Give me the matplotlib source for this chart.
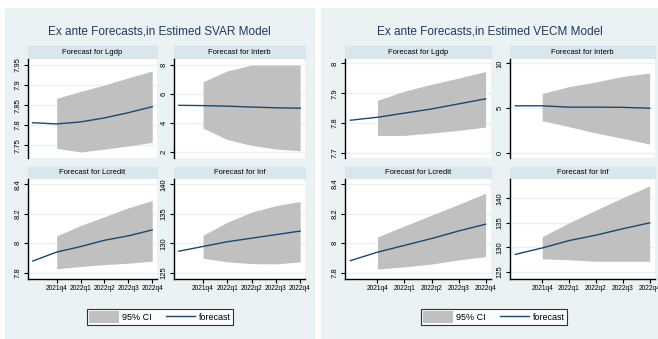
import numpy as np
import matplotlib.pyplot as plt
from matplotlib.patches import Rectangle, Patch
from matplotlib.lines import Line2D

plt.rcParams['font.family'] = ['Liberation Sans Narrow', 'Liberation Sans', 'DejaVu Sans']

W, H = 658, 339

# quarters: 2021q3 (last observed) .. 2022q4
qtr = np.arange(6)
fq = qtr[1:]
qlabels = ['2021q4', '2022q1', '2022q2', '2022q3', '2022q4']

# SVAR forecasts
svar_lgdp = [7.806, 7.803, 7.808, 7.818, 7.831, 7.846]
svar_lgdp_lo = [7.742, 7.733, 7.740, 7.748, 7.757]
svar_lgdp_hi = [7.867, 7.884, 7.900, 7.918, 7.935]

svar_interb = [5.22, 5.20, 5.16, 5.10, 5.05, 5.02]
svar_interb_lo = [3.65, 2.85, 2.45, 2.20, 2.08]
svar_interb_hi = [6.85, 7.60, 8.00, 8.00, 8.00]

svar_lcredit = [7.879, 7.940, 7.977, 8.020, 8.050, 8.090]
svar_lcredit_lo = [7.826, 7.842, 7.855, 7.864, 7.878]
svar_lcredit_hi = [8.050, 8.120, 8.180, 8.240, 8.290]

svar_inf = [128.7, 129.5, 130.3, 130.9, 131.5, 132.1]
svar_inf_lo = [127.5, 126.9, 126.6, 126.55, 126.9]
svar_inf_hi = [131.4, 133.6, 135.3, 136.4, 137.1]

# VECM forecasts
vecm_lgdp = [7.809, 7.819, 7.833, 7.847, 7.864, 7.881]
vecm_lgdp_lo = [7.758, 7.758, 7.766, 7.775, 7.786]
vecm_lgdp_hi = [7.876, 7.907, 7.930, 7.951, 7.973]

vecm_interb = [5.25, 5.25, 5.10, 5.10, 5.08, 4.98]
vecm_interb_lo = [3.58, 2.90, 2.20, 1.60, 0.96]
vecm_interb_hi = [6.64, 7.40, 7.93, 8.55, 8.93]

vecm_lcredit = [7.883, 7.940, 7.986, 8.032, 8.083, 8.129]
vecm_lcredit_lo = [7.826, 7.841, 7.860, 7.888, 7.910]
vecm_lcredit_hi = [8.043, 8.117, 8.190, 8.262, 8.338]

vecm_inf = [128.6, 129.9, 131.4, 132.5, 133.8, 135.0]
vecm_inf_lo = [127.7, 127.5, 127.2, 127.2, 127.2]
vecm_inf_hi = [132.2, 135.0, 137.6, 140.1, 142.5]

BG = '#eaf2f3'
STRIP = '#d9e6eb'
NAVY = '#1a476f'
CI = '#c0c0c0'


def rect(x0, y0, x1, y1):
    return [x0 / W, 1 - y1 / H, (x1 - x0) / W, (y1 - y0) / H]


def subplot(fig, box, title, y, lo, hi, ylim, yticks, ylabels, bottom):
    x0, y0, x1, y1 = box
    # title strip above the plot
    fig.patches.append(Rectangle((x0 / W, 1 - y0 / H), (x1 - x0) / W, 12.5 / H,
                                 transform=fig.transFigure, color=STRIP, zorder=1))
    fig.text((x0 + x1) / 2 / W, 1 - (y0 - 6.5) / H, title, ha='center', va='center',
             fontsize=5.5, color='black', zorder=3)
    ax = fig.add_axes(rect(x0, y0, x1, y1))
    ax.set_zorder(2)
    ax.set_facecolor('white')
    ax.fill_between(fq, lo, hi, color=CI, lw=0, zorder=1)
    ax.plot(qtr, y, color=NAVY, lw=1.0, zorder=2)
    ax.set_xlim(-0.2, 5.2)
    ax.set_ylim(*ylim)
    ax.set_yticks(yticks)
    ax.set_yticklabels(ylabels)
    for t in yticks:
        ax.axhline(t, color=BG, lw=1.0, zorder=0)
    for s in ['top', 'right']:
        ax.spines[s].set_visible(False)
    ax.spines['left'].set_linewidth(1.0)
    ax.tick_params(axis='y', labelrotation=90, labelsize=5.5, length=3, width=0.8, pad=1.5)
    if bottom:
        ax.spines['bottom'].set_linewidth(1.0)
        ax.set_xticks(fq)
        ax.set_xticklabels(qlabels)
        ax.tick_params(axis='x', labelsize=4.8, length=3, width=0.8, pad=1.5)
    else:
        ax.spines['bottom'].set_visible(False)
        ax.set_xticks([])
    for lab in ax.get_yticklabels():
        lab.set_va('center')
    return ax


fig = plt.figure(figsize=(W / 100, H / 100), dpi=100)
fig.patch.set_facecolor('white')

# panel backgrounds
fig.patches.append(Rectangle((5 / W, 0), 309 / W, 1 - 8 / H, transform=fig.transFigure,
                             color=BG, zorder=0))
fig.patches.append(Rectangle((321 / W, 0), 337 / W, 1 - 8 / H, transform=fig.transFigure,
                             color=BG, zorder=0))

fig.text(159 / W, 1 - 31 / H, 'Ex ante Forecasts,in Estimed SVAR Model', ha='center',
         va='center', fontsize=8.5, color='#1f3a60')
fig.text(490 / W, 1 - 31 / H, 'Ex ante Forecasts,in Estimed VECM Model', ha='center',
         va='center', fontsize=8.5, color='#1f3a60')

# SVAR panel
subplot(fig, (28, 59, 157, 158), 'Forecast for Lgdp', svar_lgdp, svar_lgdp_lo, svar_lgdp_hi,
        (7.718, 7.965), [7.75, 7.80, 7.85, 7.90, 7.95], ['7.75', '7.8', '7.85', '7.9', '7.95'], False)
subplot(fig, (174, 59, 305, 158), 'Forecast for Interb', svar_interb, svar_interb_lo, svar_interb_hi,
        (1.58, 8.42), [2, 4, 6, 8], ['2', '4', '6', '8'], False)
subplot(fig, (28, 179, 157, 279), 'Forecast for Lcredit', svar_lcredit, svar_lcredit_lo, svar_lcredit_hi,
        (7.757, 8.436), [7.8, 8.0, 8.2, 8.4], ['7.8', '8', '8.2', '8.4'], True)
subplot(fig, (174, 179, 305, 279), 'Forecast for Inf', svar_inf, svar_inf_lo, svar_inf_hi,
        (124.0, 140.9), [125, 130, 135, 140], ['125', '130', '135', '140'], True)

# VECM panel
subplot(fig, (345, 59, 491, 158), 'Forecast for Lgdp', vecm_lgdp, vecm_lgdp_lo, vecm_lgdp_hi,
        (7.682, 8.015), [7.7, 7.8, 7.9, 8.0], ['7.7', '7.8', '7.9', '8'], False)
subplot(fig, (510, 59, 655, 158), 'Forecast for Interb', vecm_interb, vecm_interb_lo, vecm_interb_hi,
        (-0.6, 10.5), [0, 5, 10], ['0', '5', '10'], False)
subplot(fig, (345, 179, 491, 279), 'Forecast for Lcredit', vecm_lcredit, vecm_lcredit_lo, vecm_lcredit_hi,
        (7.759, 8.434), [7.8, 8.0, 8.2, 8.4], ['7.8', '8', '8.2', '8.4'], True)
subplot(fig, (510, 179, 655, 279), 'Forecast for Inf', vecm_inf, vecm_inf_lo, vecm_inf_hi,
        (123.6, 143.9), [125, 130, 135, 140], ['125', '130', '135', '140'], True)

# legends
handles = [Patch(facecolor=CI, edgecolor='none', label='95% CI'),
           Line2D([], [], color=NAVY, lw=1.0, label='forecast')]
for cx in (160, 494):
    leg = fig.legend(handles=handles, loc='center', bbox_to_anchor=(cx / W, 1 - 317 / H),
                     ncol=2, fontsize=6.5, frameon=True, fancybox=False, handlelength=3.3,
                     handleheight=1.6, columnspacing=1.5, handletextpad=0.4,
                     borderpad=0.25, borderaxespad=0)
    leg.get_frame().set_edgecolor('black')
    leg.get_frame().set_linewidth(0.8)

fig.savefig('out.png', dpi=100)
